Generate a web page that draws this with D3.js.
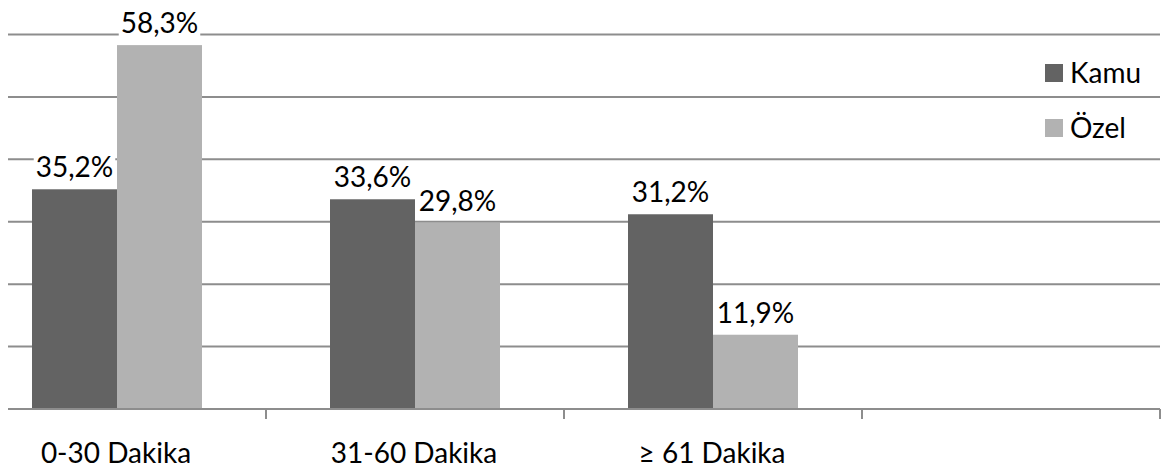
<!DOCTYPE html>
<html>
<head>
<meta charset="utf-8">
<script src="https://cdn.jsdelivr.net/npm/d3@7"></script>
<style>
  html, body { margin: 0; padding: 0; background: #fff; }
  svg { display: block; }
  text { font-family: Lato, "Open Sans", sans-serif; fill: #000; }
</style>
</head>
<body>
<svg id="chart" width="1163" height="472"></svg>
<script>
// Travel-time groups (the last slot is an empty category on the axis)
const categories = ["0-30 Dakika", "31-60 Dakika", "\u2265 61 Dakika", ""];
const seriesNames = ["Kamu", "Özel"];
const kamuValues = [35.2, 33.6, 31.2];
const ozelValues = [58.3, 29.8, 11.9];
const yTicks = [0, 10, 20, 30, 40, 50, 60];

const colors = { "Kamu": "#636363", "Özel": "#b2b2b2" };
const gridColor = "#8d8d8d";
const fontSize = 28;

const svg = d3.select("#chart");
const plotLeft = 8, plotRight = 1160;

// Category step: four bands ending at the right edge of the plot
const step = 298;
const x = d3.scaleBand()
  .domain(categories)
  .range([plotRight - step * categories.length, plotRight])
  .paddingInner(0).paddingOuter(0);

const xInner = d3.scaleBand()
  .domain(seriesNames)
  .range([64, 234])
  .padding(0);

const y = d3.scaleLinear().domain([0, 60]).range([409, 34.5]);

// Horizontal gridlines
svg.append("g")
  .selectAll("line")
  .data(yTicks.filter(t => t > 0))
  .join("line")
  .attr("x1", plotLeft).attr("x2", plotRight)
  .attr("y1", d => y(d)).attr("y2", d => y(d))
  .attr("stroke", gridColor).attr("stroke-width", 2);

// Bars
const rows = categories.slice(0, kamuValues.length).map((c, i) => ({
  category: c,
  values: [
    { series: "Kamu", value: kamuValues[i] },
    { series: "Özel", value: ozelValues[i] }
  ]
}));

const groups = svg.append("g")
  .selectAll("g")
  .data(rows)
  .join("g")
  .attr("transform", d => `translate(${x(d.category)},0)`);

groups.selectAll("rect")
  .data(d => d.values)
  .join("rect")
  .attr("x", d => xInner(d.series))
  .attr("width", xInner.bandwidth())
  .attr("y", d => y(d.value))
  .attr("height", d => y(0) - y(d.value))
  .attr("fill", d => colors[d.series]);

// Value labels with a white backing box
const fmt = v => v.toFixed(1).replace(".", ",") + "%";
const labels = groups.selectAll("g.lbl")
  .data(d => d.values)
  .join("g")
  .attr("class", "lbl")
  .attr("transform", d => `translate(${xInner(d.series) + xInner.bandwidth() / 2},${y(d.value) - 12})`);

labels.append("text")
  .attr("text-anchor", "middle")
  .attr("font-size", fontSize)
  .text(d => fmt(d.value));

labels.each(function () {
  const g = d3.select(this);
  const bb = g.select("text").node().getBBox();
  g.insert("rect", "text")
    .attr("x", bb.x - 2).attr("y", bb.y + 2)
    .attr("width", bb.width + 4).attr("height", bb.height - 2)
    .attr("fill", "#fff");
});

// Category axis
const axisY = y(0);
svg.append("line")
  .attr("x1", plotLeft).attr("x2", plotRight)
  .attr("y1", axisY).attr("y2", axisY)
  .attr("stroke", gridColor).attr("stroke-width", 2);

svg.append("g")
  .selectAll("line")
  .data(categories)
  .join("line")
  .attr("x1", d => x(d) + x.bandwidth()).attr("x2", d => x(d) + x.bandwidth())
  .attr("y1", axisY).attr("y2", axisY + 10)
  .attr("stroke", gridColor).attr("stroke-width", 2);

svg.append("g")
  .selectAll("text")
  .data(categories.filter(c => c !== ""))
  .join("text")
  .attr("x", d => x(d) + x.bandwidth() / 2 - 1)
  .attr("y", 463)
  .attr("text-anchor", "middle")
  .attr("font-size", fontSize)
  .text(d => d);

// Legend
const legend = svg.append("g")
  .selectAll("g")
  .data(seriesNames)
  .join("g")
  .attr("transform", (d, i) => `translate(1045,${64 + i * 55})`);

legend.append("rect")
  .attr("width", 18).attr("height", 18)
  .attr("fill", d => colors[d]);

legend.append("text")
  .attr("x", 25).attr("y", 19)
  .attr("font-size", fontSize)
  .text(d => d);
</script>
</body>
</html>
